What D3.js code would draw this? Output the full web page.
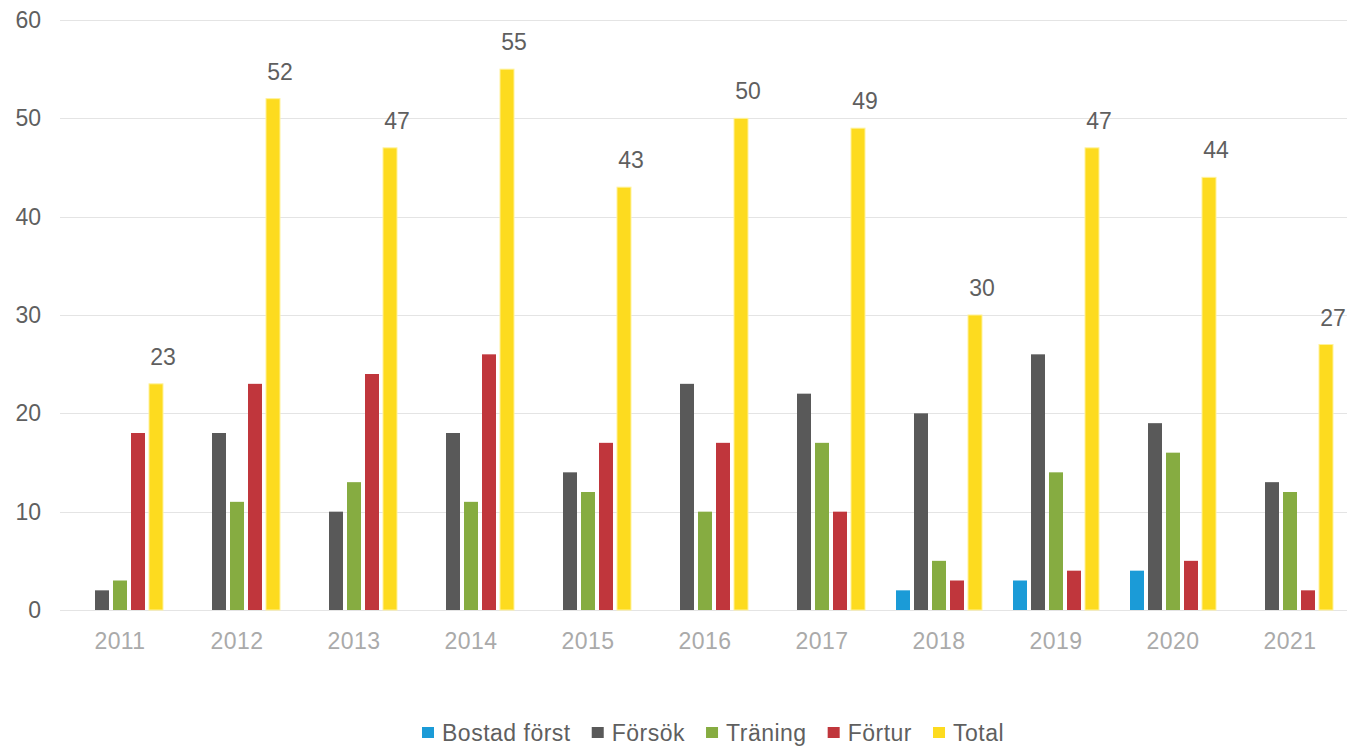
<!DOCTYPE html>
<html>
<head>
<meta charset="utf-8">
<script src="https://cdn.jsdelivr.net/npm/d3@7"></script>
<style>
  html, body { margin: 0; padding: 0; background: #ffffff; }
  svg { display: block; }
  text { font-family: "Liberation Sans", Arial, sans-serif; }
</style>
</head>
<body>
<svg id="chart" width="1347" height="746"></svg>
<script>
const years = ["2011","2012","2013","2014","2015","2016","2017","2018","2019","2020","2021"];
const seriesNames = ["Bostad först","Försök","Träning","Förtur","Total"];
const bostadForst = [0,0,0,0,0,0,0,2,3,4,0];
const forsok      = [2,18,10,18,14,23,22,20,26,19,13];
const traning     = [3,11,13,11,12,10,17,5,14,16,12];
const fortur      = [18,23,24,26,17,17,10,3,4,5,2];
const total       = [23,52,47,55,43,50,49,30,47,44,27];
const yTicks      = [0,10,20,30,40,50,60];
const colors      = ["#1B9BD7","#595959","#86AC41","#C0363C","#FDDB1F"];

const seriesValues = [bostadForst, forsok, traning, fortur, total];

(function() {
const svg = d3.select("#chart");
const mLeft = 61.5, mRight = 1348.5, mTop = 20, mBottom = 610;

const x0 = d3.scaleBand().domain(years).range([mLeft, mRight]).padding(0);
const groupW = 86;
const x1 = d3.scaleBand().domain(seriesNames)
  .range([(x0.bandwidth() - groupW) / 2, (x0.bandwidth() + groupW) / 2])
  .paddingInner(4 / 18).paddingOuter(0);
const y = d3.scaleLinear().domain([0, 60]).range([mBottom, mTop]);
const color = d3.scaleOrdinal().domain(seriesNames).range(colors);

// gridlines
svg.append("g").selectAll("line").data(yTicks).join("line")
  .attr("x1", 60).attr("x2", 1347)
  .attr("y1", d => Math.round(y(d)) + 0.5).attr("y2", d => Math.round(y(d)) + 0.5)
  .attr("stroke", "#e4e4e4").attr("stroke-width", 1);

// y axis labels
const yAxis = d3.axisLeft(y).tickValues(yTicks).tickSize(0).tickPadding(0);
const yg = svg.append("g").attr("transform", `translate(41,0)`).call(yAxis);
yg.select(".domain").remove();
yg.selectAll("text").attr("font-size", 23).attr("fill", "#5f5f5f")
  .attr("font-family", "'Liberation Sans', Arial, sans-serif");

// x axis labels
const xAxis = d3.axisBottom(x0).tickSize(0).tickPadding(0);
const xg = svg.append("g").attr("transform", `translate(0,${mBottom + 23})`).call(xAxis);
xg.select(".domain").remove();
xg.selectAll("text").attr("font-size", 23).attr("fill", "#aaaaaa")
  .attr("letter-spacing", 0.4)
  .attr("font-family", "'Liberation Sans', Arial, sans-serif");

// bars
const rows = [];
years.forEach((yr, i) => {
  seriesNames.forEach((s, j) => {
    rows.push({ year: yr, series: s, value: seriesValues[j][i] });
  });
});

svg.append("g").selectAll("rect").data(rows.filter(d => d.value > 0)).join("rect")
  .attr("x", d => x0(d.year) + x1(d.series))
  .attr("y", d => y(d.value))
  .attr("width", x1.bandwidth())
  .attr("height", d => y(0) - y(d.value))
  .attr("fill", d => color(d.series))
  .attr("stroke", d => d.series === "Total" ? "#fff29a" : "none")
  .attr("stroke-width", d => d.series === "Total" ? 1 : 0);

// data labels on Total
svg.append("g").selectAll("text").data(years.map((yr, i) => ({ year: yr, value: total[i] }))).join("text")
  .attr("x", d => x0(d.year) + x1("Total") + x1.bandwidth() / 2 + 7)
  .attr("y", d => y(d.value) - 19)
  .attr("text-anchor", "middle")
  .attr("font-size", 23)
  .attr("fill", "#5f5f5f")
  .text(d => d.value);

// legend
const legend = svg.append("g");
const items = legend.selectAll("g").data(seriesNames).join("g");
items.append("rect").attr("width", 12).attr("height", 11).attr("y", -6)
  .attr("fill", d => color(d));
items.append("text").attr("x", 20).attr("y", 0).attr("dy", "0.35em")
  .attr("font-size", 23).attr("fill", "#5f5f5f").attr("letter-spacing", 0.5).text(d => d);
let cx = 0;
items.each(function() {
  const g = d3.select(this);
  const w = 20 + g.select("text").node().getComputedTextLength();
  g.attr("transform", `translate(${cx},0)`);
  cx += w + 21;
});
legend.attr("transform", `translate(422,${733})`);
})();
</script>
</body>
</html>
